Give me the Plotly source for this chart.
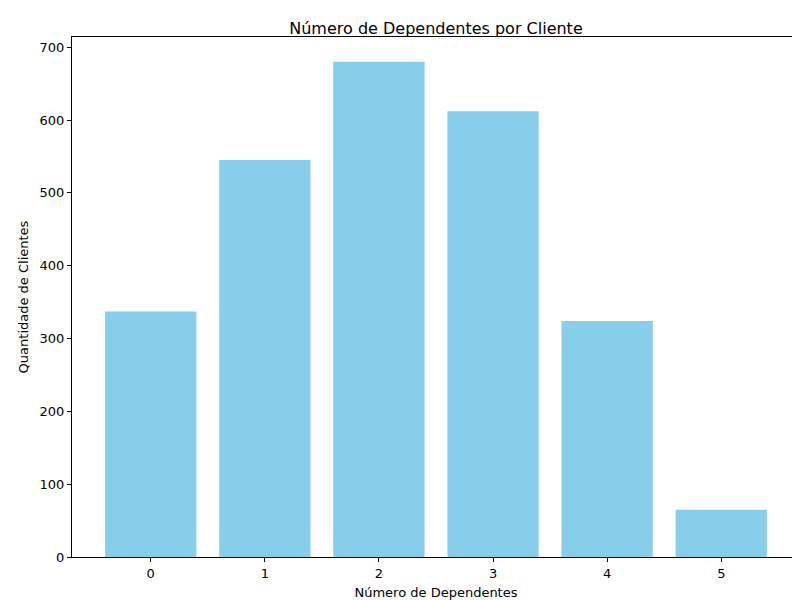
import plotly.graph_objects as go

dependentes = [0, 1, 2, 3, 4, 5]
clientes = [337, 545, 680, 612, 324, 65]

fig = go.Figure(go.Bar(x=dependentes, y=clientes, marker_color="skyblue",
                       marker_line_width=0, width=0.8))

axis_style = dict(showline=True, linecolor="black", linewidth=1, mirror=True,
                  ticks="outside", tickcolor="black", ticklen=4, showgrid=False,
                  zeroline=False, tickfont=dict(size=13, color="black"))

fig.update_layout(
    width=800, height=600,
    plot_bgcolor="white", paper_bgcolor="white",
    font=dict(family="DejaVu Sans", color="black"),
    margin=dict(l=64, r=8, t=29, b=51),
    title=dict(text="Número de Dependentes por Cliente", x=0.535, xanchor="center",
               y=0.975, font=dict(size=16)),
    xaxis=dict(title=dict(text="Número de Dependentes", font=dict(size=13), standoff=8),
               range=[-0.69, 5.69], tickvals=dependentes, **axis_style),
    yaxis=dict(title=dict(text="Quantidade de Clientes", font=dict(size=13), standoff=8),
               range=[0, 714], dtick=100, **axis_style),
    showlegend=False,
)

fig.write_html("out.html")
